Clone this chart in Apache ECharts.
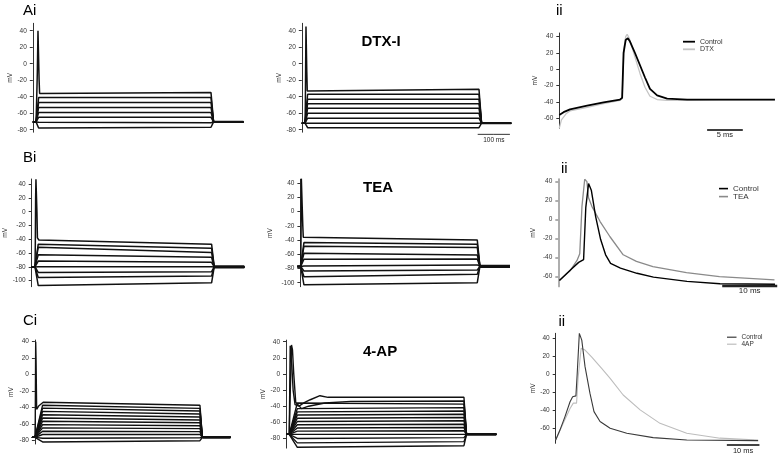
<!DOCTYPE html>
<html><head><meta charset="utf-8">
<script src="https://cdn.jsdelivr.net/npm/echarts@6/dist/echarts.min.js"></script>
<style>html,body{margin:0;padding:0;background:#fff}#c{width:778px;height:455px}</style>
</head><body><div id="c"></div>
<script>
// ===================== DATA =====================
// step protocol: trace start, step on, step off, trace end (ms)
const stepTimes = [0, 10, 550, 650];

// Ai (control)
const aiBase  = -70.5;
const aiStart = [-35, -41, -47, -53, -59, -65, -71, -78];
const aiEnd   = [-35, -41, -47, -53, -59, -65, -71.5, -77];
const aiSpike = [[11.5,-50],[14,-10],[16,40],[17.5,39],[19.5,-20],[21,-36],[26,-35]];

// A (DTX-I)
const adBase  = -72;
const adStart = [-31, -37, -43, -48.5, -54, -60, -66, -72, -77.5];
const adEnd   = [-31, -37, -43, -48.5, -54, -60, -66, -72, -77.5];
const adSpike = [[11,-50],[12,0],[13,45],[14,43],[15.5,-10],[17,-33],[22,-31]];

// Bi (control)
const biBase  = -80;
const biStart = [-41, -47, -51.5, -62.5, -71.5, -79.7, -88, -95.5, -107];
const biEnd   = [-47, -53, -59, -66, -73.4, -79.7, -87, -93.2, -103];
const biSpike = [[11,-50],[12,20],[13,47],[14.5,45],[16,0],[17.5,-38],[22,-41]];

// B (TEA)
const btBase  = -77;
const btStart = [-37.5, -43.5, -48.5, -58.5, -67, -76.5, -83.5, -91.5, -103];
const btEnd   = [-40, -46, -50.5, -61, -66.5, -75, -82, -88, -100];
const btSpike = [[11,-40],[12,47],[14.5,46],[16.5,-20],[18,-36],[24,-37.5]];

// Ci (control)
const ciBase  = -76;
const ciStart = [-33.5, -37, -40.5, -44.5, -48.5, -52.5, -56.5, -60.5, -64.5, -68.5, -72.5, -77, -81.5];
const ciEnd   = [-37, -40.8, -44, -47.6, -51.3, -54.9, -58.2, -61.8, -65.4, -69, -72.3, -76.4, -80];
const ciSpike = [[11,-55],[12.4,40],[13.5,20],[15.5,-42],[22,-38],[37,-33.5]];

// C (4-AP)
const caBase  = -75;
const caStart = [-29, -33.5, -36, -43, -47, -51, -55, -59, -63, -67, -71, -75, -80, -85.5, -91];
const caEnd   = [-29, -33.5, -37.5, -41.8, -46, -50, -54, -58, -62.5, -66.5, -70.5, -75, -79, -84, -89];
const caSpike1 = [[11,-40],[13,35],[15,37],[18,10],[22,-20],[28,-38],[40,-40],[55,-36],[75,-32],[105,-27],[130,-29]];
const caSpike2 = [[12,-40],[17,36],[20,30],[24,0],[30,-35],[48,-43],[70,-40],[120,-36],[200,-34]];

// ii panels: [time ms, mV]
const aiiControl = [[0,-56],[0.6,-52.5],[1.5,-49],[3.9,-44.5],[6.2,-40.5],[8.5,-37],[8.8,-35],[9.0,20],[9.3,36],[9.6,38],[9.9,34],[10.6,20],[11.3,5],[12.0,-10],[12.7,-24],[13.7,-32],[15.1,-36],[17.9,-37],[22.5,-37],[30.2,-37]];
const aiiDTX     = [[0,-72],[0.3,-62],[1.0,-54],[1.5,-51],[3.9,-46.5],[6.2,-42],[8.5,-38],[8.8,-36],[9.05,25],[9.3,40],[9.5,43],[9.8,38],[10.6,15],[11.3,-5],[12.0,-22],[12.7,-33],[13.7,-37],[15.1,-38],[17.9,-38],[22.5,-37.5],[30.2,-37.5]];
const biiControl = [[0.2,-64],[2.2,-53],[3.7,-45],[4.6,-42],[5.0,13],[5.5,38],[6.0,31],[6.8,3],[7.7,-21],[8.6,-37],[9.5,-46],[11.3,-51],[14.3,-56.5],[17.3,-60.5],[23.4,-65],[29.4,-67.5],[39.4,-68]];
const biiTEA     = [[0.2,-64],[2.2,-53.5],[3.4,-43],[3.9,-36],[4.3,14],[4.8,42.5],[5.2,40],[5.5,23],[6.1,14],[7.6,-2],[9.4,-18],[11.8,-37],[14.2,-44],[17.2,-49.5],[23.3,-55.8],[29.3,-60],[39.3,-63.5]];
const ciiControl = [[0,-73],[1.3,-62],[2.85,-47],[4.4,-30.5],[5.2,-25],[6.2,-24],[6.6,1],[7.25,45.5],[8.0,38],[9.0,8.5],[10.5,-21],[11.75,-41.5],[13.6,-52.5],[16.7,-60],[21.8,-65.5],[29.9,-70.4],[40.2,-73],[62.1,-73.7]];
const cii4AP     = [[0,-73],[2.3,-54.5],[4.4,-38],[5.4,-32],[6.4,-32],[6.9,-3],[7.8,29],[9.0,27],[11.0,19.5],[14.1,6.5],[16.7,-4.5],[20.7,-23],[25.9,-39.5],[32.0,-54.5],[40.2,-65.5],[50.4,-71],[62.1,-73]];

// tick labels
const ticksA  = [40, 20, 0, -20, -40, -60, -80];
const ticksB  = [40, 20, 0, -20, -40, -60, -80, -100];
const ticksII = [40, 20, 0, -20, -40, -60];

// scale bars: [x from, x to] in ms, y in mV, label
const barA   = {x: [546, 646],   y: -85.6, text: '100 ms'};
const barAii = {x: [20.7, 25.7], y: -74.4, text: '5 ms'};
const barBii = {x: [29.8, 39.8], y: -69.8, text: '10 ms'};
const barCii = {x: [52.5, 62.5], y: -78.6, text: '10 ms'};

// ===================== CHART =====================
const FONT = 'Liberation Sans, Arial, sans-serif';
const panels = [
  {left:32.8,  top:23.3,  width:210.6, height:108.9, xmax:650,   ymin:-83,   ymax:49,   ticks:ticksA,  gap:19, off:0},
  {left:301.8, top:23.3,  width:209.4, height:108.9, xmax:650,   ymin:-83,   ymax:49,   ticks:ticksA,  gap:18, off:0},
  {left:559.3, top:33,    width:216,   height:95.1,  xmax:30.25, ymin:-72,   ymax:44.5, ticks:ticksII, gap:21, off:0},
  {left:31.7,  top:179,   width:212.6, height:107.7, xmax:650,   ymin:-108.7,ymax:47.4, ticks:ticksB,  gap:16, off:0},
  {left:297.4, top:179.3, width:212.6, height:107.4, xmax:650,   ymin:-105.6,ymax:45.6, ticks:ticksB,  gap:27, off:-3},
  {left:558.3, top:179,   width:217,   height:107.6, xmax:39.45, ymin:-70.5, ymax:42.8, ticks:ticksII, gap:22, off:0, axisColor:'#9a9a9a', axisW:1.6},
  {left:31.9,  top:340,   width:198.6, height:104,   xmax:650,   ymin:-84,   ymax:42,   ticks:ticksA,  gap:20, off:-3},
  {left:286,   top:340.1, width:210.3, height:108,   xmax:650,   ymin:-92,   ymax:42,   ticks:ticksA,  gap:18, off:0},
  {left:555.7, top:333.3, width:202.6, height:110,   xmax:62.15, ymin:-76.7, ymax:45.6, ticks:ticksII, gap:17.5, off:0}
];

const grid = [], xAxis = [], yAxis = [], series = [];
panels.forEach((p, i) => {
  grid.push({left:p.left, top:p.top, width:p.width, height:p.height});
  xAxis.push({gridIndex:i, type:'value', min:0, max:p.xmax, show:false});
  const ac = p.axisColor || '#333';
  yAxis.push({
    gridIndex:i, type:'value', min:p.ymin, max:p.ymax, position:'left', offset:p.off,
    axisLine:{show:true, onZero:false, lineStyle:{color:ac, width:p.axisW || 1}},
    axisTick:{show:true, length:3, lineStyle:{color:ac, width:p.axisW || 1}, customValues:p.ticks},
    axisLabel:{fontSize:6.5, color:'#333', margin:6, fontFamily:FONT, customValues:p.ticks},
    splitLine:{show:false},
    name:'mV', nameLocation:'middle', nameGap:p.gap, nameRotate:90,
    nameTextStyle:{fontSize:6.5, color:'#333', fontFamily:FONT}
  });
});

function line(gi, data, color, width, name, z) {
  return {type:'line', name:name, xAxisIndex:gi, yAxisIndex:gi, data:data, color:color,
    showSymbol:false, symbol:'none', silent:true, z:z || 2,
    lineStyle:{color:color, width:width}, itemStyle:{color:color}};
}

function stepPanel(gi, base, starts, ends, spikes, settle, lw, tailW) {
  const [t0, on, off, t1] = stepTimes;
  starts.forEach((s, i) => {
    let pts;
    if (spikes[i]) pts = [[t0, base], [on, base], ...spikes[i], [off, ends[i]], [off + 8, base], [t1, base]];
    else pts = [[t0, base], [on, base], [on + settle, s], [off, ends[i]], [off + 8, base], [t1, base]];
    series.push(line(gi, pts, '#111', lw));
  });
  series.push(line(gi, [[off + 8, base], [t1, base]], '#111', tailW));
}

stepPanel(0, aiBase, aiStart, aiEnd, {0: aiSpike}, 8, 1.5, 2.4);
stepPanel(1, adBase, adStart, adEnd, {0: adSpike}, 8, 1.5, 2.4);
stepPanel(3, biBase, biStart, biEnd, {0: biSpike}, 10, 1.5, 3.2);
stepPanel(4, btBase, btStart, btEnd, {0: btSpike}, 10, 1.5, 3.2);
stepPanel(6, ciBase, ciStart, ciEnd, {0: ciSpike}, 25, 1.4, 2.8);
stepPanel(7, caBase, caStart, caEnd, {0: caSpike1, 1: caSpike2}, 25, 1.4, 2.8);

series.push(line(2, aiiDTX, '#c4c4c4', 1.3, 'DTX', 2));
series.push(line(2, aiiControl, '#000', 1.8, 'Control|A', 3));
series.push(line(5, biiTEA, '#8a8a8a', 1.3, 'TEA', 2));
series.push(line(5, biiControl, '#000', 1.4, 'Control|B', 3));
series.push(line(8, cii4AP, '#bdbdbd', 1.1, '4AP', 2));
series.push(line(8, ciiControl, '#3a3a3a', 1.1, 'Control|C', 3));

function scaleBar(gi, b, color, width, fs, dist) {
  const mid = (b.x[0] + b.x[1]) / 2;
  series.push({type:'line', xAxisIndex:gi, yAxisIndex:gi, clip:false, silent:true,
    symbol:'circle', symbolSize:0.01, showSymbol:true, color:color,
    lineStyle:{color:color, width:width}, itemStyle:{color:color},
    data:[{value:[b.x[0], b.y]},
          {value:[mid, b.y], label:{show:true, position:'bottom', distance:dist, formatter:b.text,
             fontSize:fs, color:'#222', fontFamily:FONT}},
          {value:[b.x[1], b.y]}]});
}
scaleBar(1, barA, '#333', 1, 6.5, 2.5);
scaleBar(2, barAii, '#000', 1.5, 7.5, 0.5);
scaleBar(5, barBii, '#222', 2.5, 8, 0.5);
scaleBar(8, barCii, '#444', 2, 7.5, 1.5);

const lgFmt = n => n.split('|')[0];
const legend = [
  {data:['Control|A', 'DTX'], left:683, top:37.9, orient:'vertical', padding:0, itemWidth:12, itemHeight:1.8,
   itemGap:0, icon:'rect', selectedMode:false, formatter:lgFmt, textStyle:{fontSize:7, lineHeight:7.6, color:'#333', fontFamily:FONT}},
  {data:['Control|B', 'TEA'], left:719, top:184.6, orient:'vertical', padding:0, itemWidth:9, itemHeight:1.6,
   itemGap:0, icon:'rect', selectedMode:false, formatter:lgFmt, textStyle:{fontSize:8, lineHeight:7.4, color:'#333', fontFamily:FONT}},
  {data:['Control|C', '4AP'], left:727, top:333.7, orient:'vertical', padding:0, itemWidth:9.5, itemHeight:1.2,
   itemGap:0, icon:'rect', selectedMode:false, formatter:lgFmt, textStyle:{fontSize:6.5, lineHeight:6, color:'#333', fontFamily:FONT}}
];

function ttl(text, left, top, bold) {
  return {text:text, left:left, top:top, padding:0,
    textStyle:{fontSize:15, fontWeight:bold ? 'bold' : 'normal', color:'#000', fontFamily:FONT}};
}
const title = [
  ttl('Ai', 23, 3), ttl('ii', 556, 3), ttl('Bi', 23, 150.5), ttl('ii', 561, 161.5),
  ttl('Ci', 23, 313), ttl('ii', 558.5, 314.5),
  ttl('DTX-I', 361.5, 34.5, true), ttl('TEA', 363, 180.5, true), ttl('4-AP', 363, 344, true)
];

const chart = echarts.init(document.getElementById('c'), null, {renderer:'canvas'});
chart.setOption({animation:false, backgroundColor:'#fff', title, legend, grid, xAxis, yAxis, series});
</script>
</body></html>
